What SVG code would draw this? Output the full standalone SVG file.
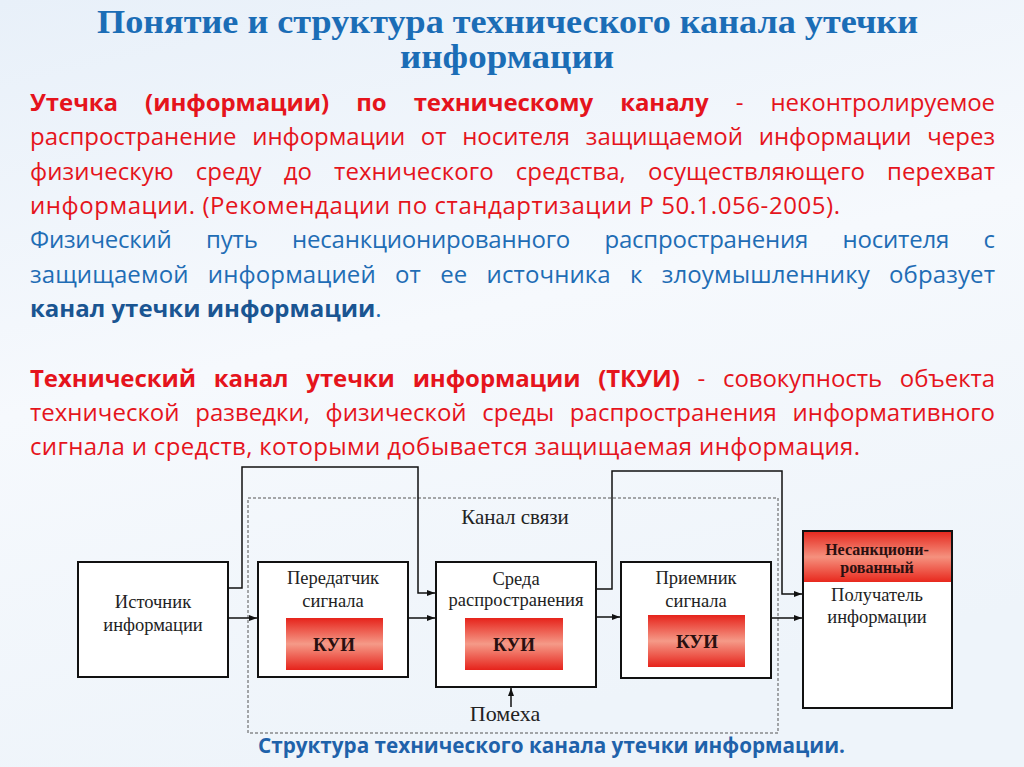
<svg xmlns="http://www.w3.org/2000/svg" width="1024" height="767" viewBox="0 0 1024 767">
<defs>
<linearGradient id="bg" x1="0" y1="0" x2="0.3" y2="1">
<stop offset="0" stop-color="#e8f0f9"/>
<stop offset="0.5" stop-color="#f6f9fd"/>
<stop offset="1" stop-color="#eef4fa"/>
</linearGradient>
<linearGradient id="kui" x1="0" y1="0" x2="0" y2="1">
<stop offset="0" stop-color="#e6231b"/>
<stop offset="0.5" stop-color="#f59a88"/>
<stop offset="1" stop-color="#e6231b"/>
</linearGradient>
<linearGradient id="hdr" x1="0" y1="0" x2="0" y2="1">
<stop offset="0" stop-color="#e52a20"/>
<stop offset="0.5" stop-color="#f5917e"/>
<stop offset="1" stop-color="#e8281d"/>
</linearGradient>
<marker id="arr" markerWidth="8" markerHeight="6" refX="8" refY="3" orient="auto" markerUnits="userSpaceOnUse">
<path d="M0,0 L8,3 L0,6 Z" fill="#111"/>
</marker>
<style>
.title{font-family:"Liberation Serif",serif;font-weight:bold;font-size:33px;fill:#1b6db6}
.body{font-family:"Open Sans","Liberation Sans",sans-serif;font-size:24px}
.red{fill:#e5141c}
.blue{fill:#1f6db5}
.dblue{fill:#1a5592;font-weight:bold}
.b{font-weight:bold}
.box{fill:#fff;stroke:#111;stroke-width:2}
.lbl{font-family:"Liberation Serif",serif;font-size:18.5px;fill:#222;text-anchor:middle}
.kuit{font-family:"Liberation Serif",serif;font-size:19px;font-weight:bold;fill:#2a1010;text-anchor:middle}
.hdt{font-family:"Liberation Serif",serif;font-size:16px;font-weight:bold;fill:#2a1010;text-anchor:middle}
.con{fill:none;stroke:#111;stroke-width:1.5}
.cap{font-family:"Open Sans","Liberation Sans",sans-serif;font-size:21px;font-weight:bold;fill:#1f62aa}
</style>
</defs>
<rect x="0" y="0" width="1024" height="767" fill="url(#bg)"/>

<g id="title">
<text class="title" x="97" y="33" textLength="821" lengthAdjust="spacingAndGlyphs">Понятие и структура технического канала утечки</text>
<text class="title" x="400" y="68" textLength="214" lengthAdjust="spacingAndGlyphs">информации</text>
</g>

<g id="definition" class="body">
<text class="red" x="30" y="111" word-spacing="21" textLength="965" lengthAdjust="spacing"><tspan class="b">Утечка</tspan> <tspan class="b">(информации)</tspan> <tspan class="b">по</tspan> <tspan class="b">техническому</tspan> <tspan class="b">каналу</tspan> <tspan>-</tspan> <tspan>неконтролируемое</tspan></text>
<text class="red" x="30" y="145" word-spacing="9.5" textLength="965" lengthAdjust="spacing"><tspan>распространение</tspan> <tspan>информации</tspan> <tspan>от</tspan> <tspan>носителя</tspan> <tspan>защищаемой</tspan> <tspan>информации</tspan> <tspan>через</tspan></text>
<text class="red" x="30" y="180" word-spacing="15.8" textLength="965" lengthAdjust="spacing"><tspan>физическую</tspan> <tspan>среду</tspan> <tspan>до</tspan> <tspan>технического</tspan> <tspan>средства,</tspan> <tspan>осуществляющего</tspan> <tspan>перехват</tspan></text>
<text class="red" x="30" y="214" textLength="810" lengthAdjust="spacing"><tspan>информации.</tspan> <tspan>(Рекомендации</tspan> <tspan>по</tspan> <tspan>стандартизации</tspan> <tspan>Р</tspan> <tspan>50.1.056-2005).</tspan></text>
<text class="blue" x="30" y="248" word-spacing="28.4" textLength="965" lengthAdjust="spacing"><tspan>Физический</tspan> <tspan>путь</tspan> <tspan>несанкционированного</tspan> <tspan>распространения</tspan> <tspan>носителя</tspan> <tspan>с</tspan></text>
<text class="blue" x="30" y="283" word-spacing="12.8" textLength="965" lengthAdjust="spacing"><tspan>защищаемой</tspan> <tspan>информацией</tspan> <tspan>от</tspan> <tspan>ее</tspan> <tspan>источника</tspan> <tspan>к</tspan> <tspan>злоумышленнику</tspan> <tspan>образует</tspan></text>
<text x="30" y="317"><tspan class="dblue">канал</tspan> <tspan class="dblue">утечки</tspan> <tspan class="dblue">информации</tspan><tspan class="blue">.</tspan></text>
</g>

<g id="tkui" class="body">
<text class="red" x="30" y="387" word-spacing="11.7" textLength="965" lengthAdjust="spacing"><tspan class="b">Технический</tspan> <tspan class="b">канал</tspan> <tspan class="b">утечки</tspan> <tspan class="b">информации</tspan> <tspan class="b">(ТКУИ)</tspan> <tspan>-</tspan> <tspan>совокупность</tspan> <tspan>объекта</tspan></text>
<text class="red" x="30" y="421" word-spacing="9.4" textLength="965" lengthAdjust="spacing"><tspan>технической</tspan> <tspan>разведки,</tspan> <tspan>физической</tspan> <tspan>среды</tspan> <tspan>распространения</tspan> <tspan>информативного</tspan></text>
<text class="red" x="30" y="455" textLength="830" lengthAdjust="spacing"><tspan>сигнала</tspan> <tspan>и</tspan> <tspan>средств,</tspan> <tspan>которыми</tspan> <tspan>добывается</tspan> <tspan>защищаемая</tspan> <tspan>информация.</tspan></text>
</g>

<g id="channel">
<rect x="248" y="498" width="530" height="235" fill="none" stroke="#555" stroke-width="1" stroke-dasharray="3,2"/>
<text class="lbl" x="515" y="524" style="font-size:21px">Канал связи</text>
</g>

<g id="connectors">
<path class="con" d="M228,618 H257" marker-end="url(#arr)"/>
<path class="con" d="M228,588 H242 V467 H418 V593 H435" marker-end="url(#arr)"/>
<path class="con" d="M408,618 H435" marker-end="url(#arr)"/>
<path class="con" d="M596,589 H612 V471 H782 V594 H802" marker-end="url(#arr)"/>
<path class="con" d="M596,617 H620" marker-end="url(#arr)"/>
<path class="con" d="M771,618 H802" marker-end="url(#arr)"/>
<path class="con" d="M511,707 V688" marker-end="url(#arr)"/>
</g>

<g id="source">
<rect class="box" x="78" y="562" width="150" height="115"/>
<text class="lbl" x="153" y="608">Источник</text>
<text class="lbl" x="153" y="631">информации</text>
</g>

<g id="transmitter">
<rect class="box" x="258" y="562" width="150" height="115"/>
<text class="lbl" x="333" y="584">Передатчик</text>
<text class="lbl" x="333" y="607">сигнала</text>
<rect x="286" y="618" width="97" height="52" fill="url(#kui)"/>
<text class="kuit" x="334" y="651">КУИ</text>
</g>

<g id="medium">
<rect class="box" x="436" y="562" width="160" height="125"/>
<text class="lbl" x="516" y="585">Среда</text>
<text class="lbl" x="516" y="606">распространения</text>
<rect x="465" y="618" width="98" height="52" fill="url(#kui)"/>
<text class="kuit" x="514" y="651">КУИ</text>
</g>

<g id="receiver">
<rect class="box" x="621" y="562" width="150" height="116"/>
<text class="lbl" x="696" y="584">Приемник</text>
<text class="lbl" x="696" y="607">сигнала</text>
<rect x="648" y="615" width="97" height="52" fill="url(#kui)"/>
<text class="kuit" x="697" y="648">КУИ</text>
</g>

<g id="recipient">
<rect class="box" x="803" y="531" width="149" height="177"/>
<rect x="804" y="532" width="147" height="50" fill="url(#hdr)"/>
<text class="hdt" x="877" y="555">Несанкциони-</text>
<text class="hdt" x="877" y="573">рованный</text>
<text class="lbl" x="877" y="601">Получатель</text>
<text class="lbl" x="877" y="623">информации</text>
</g>

<g id="noise">
<text class="lbl" x="505" y="721" style="font-size:22px">Помеха</text>
</g>

<text class="cap" x="258" y="753" textLength="587" lengthAdjust="spacingAndGlyphs">Структура технического канала утечки информации.</text>
</svg>
